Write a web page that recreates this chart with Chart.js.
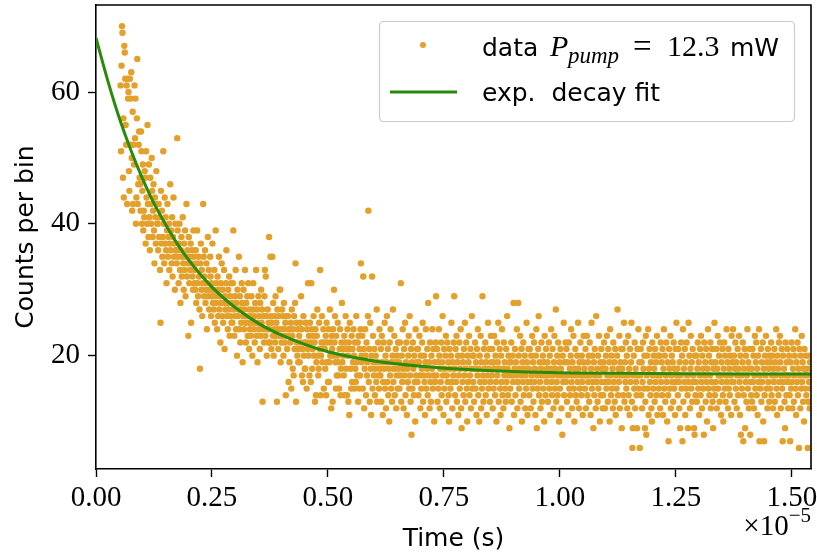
<!DOCTYPE html>
<html>
<head>
<meta charset="utf-8">
<script src="https://cdn.jsdelivr.net/npm/chart.js@4.4.0/dist/chart.umd.min.js"></script>
<style>
  html, body { margin: 0; padding: 0; background: #fff; }
  #wrap { width: 817px; height: 559px; }
</style>
</head>
<body>
<div id="wrap"><canvas id="chart" width="817" height="559"></canvas></div>
<script>
// time axis is in units of 1e-5 s, one count per 10 ns bin
const binStart = 0.053;
const binWidth = 0.001;

const counts = [
  61, 51, 64, 70, 69, 47, 56, 44, 67, 66, 62, 55, 52, 61, 43, 62, 59, 60, 48, 45, 62, 52, 59, 63, 50, 42, 57, 43, 52, 49, 61, 53, 59, 40, 44, 56, 65, 43, 46, 52,
  54, 47, 46, 42, 54, 51, 40, 45, 49, 39, 42, 41, 48, 47, 37, 51, 44, 40, 55, 43, 38, 49, 41, 36, 47, 43, 40, 50, 45, 38, 42, 46, 39, 34, 44, 41, 37, 48, 43, 40,
  40, 36, 43, 38, 41, 33, 25, 45, 37, 42, 35, 38, 51, 40, 34, 44, 37, 41, 36, 31, 39, 43, 35, 38, 40, 33, 37, 46, 36, 39, 34, 41, 32, 38, 44, 35, 37, 30, 40, 36,
  36, 34, 53, 39, 35, 31, 37, 40, 33, 28, 36, 38, 32, 35, 41, 34, 30, 37, 33, 39, 29, 35, 43, 32, 36, 34, 23, 38, 31, 35, 33, 37, 25, 34, 36, 32, 30, 39, 35, 31,
  33, 30, 36, 28, 34, 39, 31, 29, 35, 32, 27, 18, 34, 37, 30, 33, 26, 31, 43, 35, 29, 32, 36, 28, 30, 34, 24, 31, 38, 29, 33, 27, 30, 35, 32, 26, 31, 29, 37, 28,
  30, 27, 33, 25, 29, 39, 31, 28, 24, 32, 26, 30, 35, 27, 29, 22, 31, 28, 34, 26, 30, 25, 28, 33, 21, 29, 27, 31, 36, 26, 28, 24, 30, 27, 32, 23, 29, 26, 31, 25,
  28, 25, 31, 39, 27, 23, 29, 26, 33, 24, 28, 20, 30, 26, 27, 35, 24, 29, 22, 27, 25, 31, 28, 19, 26, 30, 24, 27, 33, 25, 22, 28, 26, 29, 23, 31, 25, 21, 27, 24,
  26, 23, 29, 25, 20, 27, 31, 24, 26, 22, 28, 25, 33, 23, 27, 19, 25, 29, 24, 26, 21, 28, 23, 30, 25, 27, 13, 24, 26, 22, 29, 33, 23, 32, 26, 20, 24, 27, 22, 25,
  38, 24, 22, 35, 26, 21, 25, 35, 23, 28, 20, 24, 26, 22, 29, 23, 25, 13, 27, 24, 21, 26, 23, 30, 30, 19, 24, 22, 27, 23, 26, 20, 28, 24, 22, 25, 14, 23, 26, 21,
  23, 26, 16, 24, 19, 24, 22, 25, 15, 27, 23, 18, 24, 17, 26, 21, 28, 34, 13, 25, 22, 20, 24, 19, 21, 23, 19, 25, 22, 29, 24, 17, 21, 16, 26, 20, 22, 18, 18, 25,
  22, 15, 24, 21, 31, 20, 23, 17, 25, 22, 16, 31, 24, 18, 21, 23, 26, 20, 22, 13, 24, 14, 19, 23, 27, 20, 17, 18, 25, 21, 33, 14, 20, 22, 26, 19, 21, 24, 15, 22,
  21, 18, 23, 14, 25, 19, 22, 16, 24, 16, 19, 27, 20, 22, 12, 23, 21, 13, 24, 20, 30, 22, 26, 19, 15, 23, 17, 20, 25, 17, 19, 15, 21, 24, 14, 18, 22, 28, 19, 21,
  20, 17, 23, 14, 22, 26, 18, 21, 14, 24, 20, 13, 22, 11, 25, 21, 18, 15, 23, 16, 21, 19, 24, 20, 15, 22, 18, 16, 26, 19, 17, 22, 13, 23, 15, 21, 17, 24, 34, 20,
  19, 23, 15, 32, 21, 12, 18, 24, 20, 14, 22, 17, 19, 26, 42, 16, 21, 13, 25, 18, 11, 20, 32, 15, 23, 19, 17, 21, 14, 18, 20, 16, 27, 13, 19, 22, 17, 15, 24, 18,
  17, 21, 13, 23, 19, 11, 16, 22, 18, 25, 15, 20, 12, 19, 26, 16, 21, 14, 18, 10, 22, 17, 24, 15, 19, 13, 20, 27, 16, 18, 23, 14, 19, 21, 12, 17, 20, 15, 22, 18,
  19, 15, 22, 17, 31, 13, 20, 16, 24, 18, 12, 21, 17, 25, 14, 19, 22, 11, 18, 16, 20, 23, 15, 26, 17, 13, 21, 8, 19, 15, 22, 18, 14, 20, 16, 10, 24, 17, 19, 21,
  16, 21, 14, 19, 23, 17, 12, 20, 15, 18, 22, 25, 13, 17, 20, 16, 11, 19, 24, 15, 18, 21, 14, 28, 17, 19, 12, 22, 16, 13, 20, 18, 24, 15, 21, 17, 10, 19, 16, 22,
  29, 17, 21, 13, 19, 15, 24, 20, 12, 18, 16, 22, 14, 19, 26, 17, 11, 21, 15, 18, 20, 23, 13, 17, 22, 16, 19, 14, 10, 21, 18, 15, 20, 25, 16, 12, 19, 17, 22, 29,
  18, 14, 21, 16, 23, 13, 19, 20, 11, 17, 22, 15, 18, 24, 12, 9, 20, 16, 19, 14, 21, 17, 25, 13, 18, 22, 15, 10, 20, 16, 19, 23, 14, 17, 21, 12, 18, 26, 15, 20,
  16, 20, 13, 18, 22, 15, 19, 11, 21, 17, 24, 14, 18, 10, 20, 16, 23, 12, 19, 15, 29, 17, 13, 21, 18, 16, 22, 14, 19, 11, 20, 17, 25, 15, 18, 21, 13, 16, 23, 19,
  17, 21, 12, 19, 15, 23, 18, 14, 20, 16, 10, 22, 17, 19, 25, 13, 18, 21, 15, 11, 20, 16, 24, 14, 18, 12, 22, 17, 19, 15, 13, 21, 16, 26, 18, 14, 20, 17, 9, 19,
  15, 19, 22, 13, 17, 20, 16, 28, 11, 18, 21, 14, 19, 17, 24, 12, 16, 28, 20, 15, 18, 23, 13, 17, 21, 10, 19, 16, 22, 14, 18, 20, 12, 17, 15, 25, 19, 11, 16, 21,
  18, 14, 21, 16, 12, 20, 17, 23, 15, 19, 13, 22, 16, 18, 11, 20, 24, 9, 17, 15, 21, 26, 14, 19, 16, 12, 18, 22, 13, 17, 20, 15, 19, 10, 23, 17, 14, 21, 16, 18,
  19, 13, 17, 22, 15, 20, 11, 18, 24, 16, 14, 21, 17, 12, 19, 23, 15, 18, 27, 13, 16, 20, 14, 22, 17, 10, 19, 15, 21, 18, 12, 17, 8, 20, 16, 25, 14, 19, 17, 22,
  16, 21, 13, 19, 17, 11, 22, 15, 18, 14, 20, 24, 16, 12, 19, 17, 23, 15, 10, 18, 21, 14, 17, 13, 20, 16, 25, 18, 12, 19, 15, 22, 17, 14, 20, 16, 11, 19, 23, 17,
  18, 15, 21, 12, 17, 23, 14, 19, 16, 20, 13, 22, 17, 11, 18, 25, 15, 20, 16, 9, 19, 14, 21, 17, 12, 26, 16, 18, 13, 20, 15, 23, 17, 10, 19, 14, 21, 16, 18, 12,
  14, 19, 22, 16, 12, 18, 20, 15, 23, 17, 13, 21, 16, 19, 10, 24, 17, 14, 20, 15, 18, 12, 22, 16, 19, 13, 21, 11, 17, 15, 20, 27, 14, 18, 16, 23, 12, 19, 17, 21,
  9, 18, 21, 14, 17, 25, 13, 19, 16, 22, 15, 20, 12, 17, 23, 14, 18, 11, 21, 16, 19, 25, 13, 6, 9, 17, 20, 15, 22, 12, 18, 16, 14, 9, 21, 17, 24, 15, 19, 6,
  17, 21, 14, 19, 12, 16, 22, 18, 15, 20, 9, 13, 23, 8, 17, 20, 15, 24, 11, 18, 21, 16, 14, 19, 12, 10, 22, 17, 15, 20, 18, 13, 21, 16, 19, 14, 23, 11, 17, 20,
  15, 20, 17, 12, 22, 16, 19, 14, 21, 11, 18, 24, 15, 20, 13, 17, 22, 16, 10, 19, 14, 7, 21, 18, 15, 23, 12, 17, 20, 16, 19, 13, 22, 15, 18, 11, 21, 16, 25, 17,
  18, 14, 21, 16, 12, 19, 9, 17, 22, 15, 20, 7, 24, 13, 18, 16, 21, 11, 19, 15, 22, 17, 14, 9, 25, 16, 20, 12, 18, 23, 15, 19, 13, 21, 17, 16, 9, 8, 20, 14,
  16, 20, 13, 18, 22, 15, 19, 11, 17, 21, 14, 23, 16, 12, 20, 18, 15, 8, 22, 17, 19, 13, 21, 16, 10, 18, 24, 15, 20, 14, 17, 22, 12, 19, 16, 21, 13, 9, 18, 15,
  25, 14, 19, 16, 21, 12, 18, 23, 15, 17, 20, 13, 22, 17, 11, 19, 16, 21, 14, 10, 18, 22, 15, 20, 13, 17, 24, 16, 19, 12, 21, 15, 18, 14, 20, 17, 11, 23, 16, 19,
  24, 16, 20, 13, 18, 22, 15, 19, 12, 17, 21, 14, 18, 23, 16, 11, 20, 8, 17, 15, 19, 22, 7, 14, 18, 21, 9, 16, 20, 13, 17, 24, 15, 19, 12, 18, 21, 8, 16, 14,
  18, 13, 21, 16, 20, 12, 17, 23, 15, 19, 22, 14, 18, 11, 20, 16, 24, 7, 17, 15, 21, 13, 19, 16, 22, 10, 18, 7, 14, 20, 17, 23, 15, 19, 12, 21, 16, 18, 13, 20,
  15, 19, 22, 14, 17, 20, 12, 18, 16, 21, 13, 19, 17, 24, 15, 11, 20, 18, 14, 22, 16, 23, 19, 12, 17, 21, 15, 7, 20, 16, 18, 13, 9, 22, 17, 14, 19, 21, 16, 12,
  17, 20, 14, 7, 19, 15, 22, 16, 12, 18, 21, 13, 17, 20, 24, 15, 11, 19, 16, 22, 14, 18, 6, 21, 17, 12, 20, 15, 23, 16, 19, 13, 18, 10, 21, 17, 15, 20, 14, 18,
  17, 6, 13, 20, 16, 12, 19, 15, 18
];

// exponential fit, values
const fitTime   = [0, 0.025, 0.05, 0.075, 0.1, 0.125, 0.15, 0.175, 0.2, 0.25, 0.3, 0.35, 0.4, 0.45, 0.5, 0.6, 0.7, 0.8, 0.9, 1.0, 1.2, 1.4, 1.541];
const fitCounts = [68.2, 61.8, 56.1, 51.2, 46.9, 43.1, 39.9, 37.0, 34.5, 30.4, 27.3, 24.9, 23.1, 21.7, 20.6, 19.2, 18.4, 17.9, 17.6, 17.4, 17.3, 17.2, 17.2];

const xTicks = [0, 0.25, 0.5, 0.75, 1.0, 1.25, 1.5];
const yTicks = [20, 40, 60];
const seriesNames = ['data', 'exp.  decay fit'];

const dotColor = '#e3a02a';
const fitColor = '#288c0a';
const SANS = "'DejaVu Sans'";
const SERIF = "'Liberation Serif'";

const points = counts.map((c, i) => ({ x: binStart + i * binWidth, y: c }));
const fitPoints = fitTime.map((t, i) => ({ x: t, y: fitCounts[i] }));

const decorations = {
  id: 'decorations',
  afterDraw(chart) {
    const { ctx, chartArea: a } = chart;
    ctx.save();

    // top / right spines
    ctx.strokeStyle = '#000';
    ctx.lineWidth = 1.6;
    ctx.beginPath();
    ctx.moveTo(a.left, a.top);
    ctx.lineTo(a.right, a.top);
    ctx.lineTo(a.right, a.bottom);
    ctx.stroke();

    // axis titles
    ctx.fillStyle = '#000';
    ctx.font = '25px ' + SANS;
    ctx.textAlign = 'center';
    ctx.textBaseline = 'alphabetic';
    ctx.fillText('Time (s)', (a.left + a.right) / 2, 546);
    ctx.save();
    ctx.translate(33, (a.top + a.bottom) / 2);
    ctx.rotate(-Math.PI / 2);
    ctx.fillText('Counts per bin', 0, 0);
    ctx.restore();

    // offset text x10^-5
    ctx.textAlign = 'right';
    ctx.font = '21px ' + SERIF;
    const sup = '\u22125';
    const supW = ctx.measureText(sup).width;
    ctx.fillText(sup, a.right, 522);
    ctx.font = '29px ' + SERIF;
    ctx.fillText('\u00d710', a.right - supW, 535);

    // legend
    ctx.beginPath();
    ctx.roundRect(379.5, 21.5, 415, 100, 4);
    ctx.fillStyle = 'rgba(255,255,255,0.8)';
    ctx.fill();
    ctx.strokeStyle = '#cccccc';
    ctx.lineWidth = 1.2;
    ctx.stroke();

    ctx.fillStyle = dotColor;
    ctx.beginPath();
    ctx.arc(423, 45, 3, 0, Math.PI * 2);
    ctx.fill();

    ctx.strokeStyle = fitColor;
    ctx.lineWidth = 3;
    ctx.beginPath();
    ctx.moveTo(390, 92);
    ctx.lineTo(457, 92);
    ctx.stroke();

    ctx.fillStyle = '#000';
    ctx.textAlign = 'left';
    ctx.font = '25px ' + SANS;
    ctx.fillText(seriesNames[0], 482, 56);
    ctx.font = 'italic 30px ' + SERIF;
    ctx.fillText('P', 550, 56);
    ctx.font = 'italic 23px ' + SERIF;
    ctx.fillText('pump', 568, 63);
    ctx.font = '33px ' + SERIF;
    ctx.fillText('=', 633, 57);
    ctx.font = '30px ' + SERIF;
    ctx.fillText('12.3', 667, 56);
    ctx.font = '25px ' + SANS;
    ctx.fillText('mW', 730, 56);
    ctx.fillText(seriesNames[1], 482, 101);

    ctx.restore();
  }
};

new Chart(document.getElementById('chart'), {
  type: 'scatter',
  data: {
    datasets: [
      {
        type: 'line',
        label: seriesNames[1],
        data: fitPoints,
        borderColor: fitColor,
        borderWidth: 3,
        pointRadius: 0,
        fill: false,
        cubicInterpolationMode: 'monotone',
        order: 0
      },
      {
        label: seriesNames[0],
        data: points,
        backgroundColor: dotColor,
        borderWidth: 0,
        pointRadius: 3.2,
        order: 1
      }
    ]
  },
  options: {
    responsive: false,
    animation: false,
    layout: { padding: { top: 5, right: 6, left: 0, bottom: 0 } },
    plugins: {
      legend: { display: false },
      tooltip: { enabled: false }
    },
    scales: {
      x: {
        type: 'linear',
        position: 'bottom',
        min: 0,
        max: 1.541,
        afterFit: s => { s.height = 90; s.paddingLeft = 0; s.paddingRight = 0; },
        afterBuildTicks: s => { s.ticks = xTicks.map(v => ({ value: v })); },
        ticks: {
          callback: v => v.toFixed(2),
          font: { family: SERIF, size: 29 },
          color: '#000',
          padding: 4,
          maxRotation: 0,
          autoSkip: false
        },
        grid: { drawOnChartArea: false, tickLength: 8, tickWidth: 1.4, tickColor: '#000' },
        border: { display: true, color: '#000', width: 1.6 }
      },
      y: {
        type: 'linear',
        min: 2.8,
        max: 73.2,
        afterFit: s => { s.width = 96; s.paddingTop = 0; s.paddingBottom = 0; },
        afterBuildTicks: s => { s.ticks = yTicks.map(v => ({ value: v })); },
        ticks: {
          font: { family: SERIF, size: 29 },
          color: '#000',
          padding: 8
        },
        grid: { drawOnChartArea: false, tickLength: 8, tickWidth: 1.4, tickColor: '#000' },
        border: { display: true, color: '#000', width: 1.6 }
      }
    }
  },
  plugins: [decorations]
});
</script>
</body>
</html>
